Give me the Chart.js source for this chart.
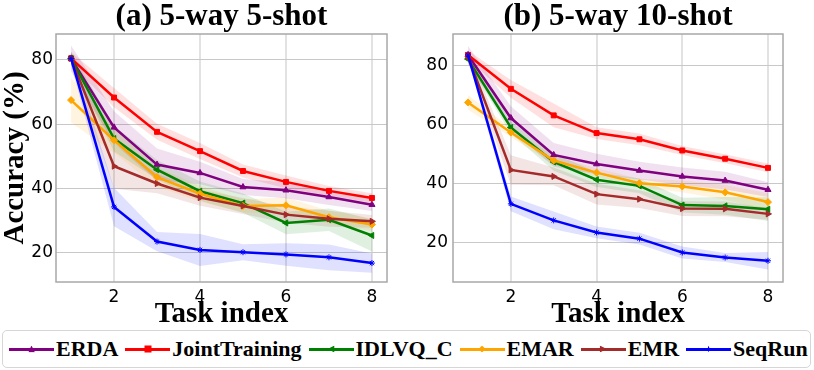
<!DOCTYPE html>
<html><head><meta charset="utf-8">
<script src="https://cdn.jsdelivr.net/npm/chart.js@4.4.0/dist/chart.umd.min.js"></script>
<style>
body{margin:0;background:#fff;width:814px;height:370px;overflow:hidden;position:relative;}
#c1{position:absolute;left:0;top:0;}
#c2{position:absolute;left:405px;top:0;}
#legend{position:absolute;left:2px;top:330px;width:809px;height:38px;border:1px solid #d6d6d6;border-radius:5px;box-sizing:border-box;display:flex;align-items:center;padding-left:6px;font-family:'Liberation Serif','Times New Roman',serif;font-weight:bold;font-size:22px;color:#000;}
.item{display:flex;align-items:center;margin-right:7px;}
.ln{width:45px;height:3px;position:relative;margin-right:2px;}
.mk{position:absolute;left:50%;top:50%;width:7px;height:7px;transform:translate(-50%,-50%);}
</style>
</head><body>
<canvas id="c1" width="405" height="330"></canvas>
<canvas id="c2" width="409" height="330"></canvas>
<div id="legend"></div>
<script>
// ---------- data ----------
const taskIdx = [1, 2, 3, 4, 5, 6, 7, 8];
const xTicks = [2, 4, 6, 8];
const yTicks = [20, 40, 60, 80];
const seriesNames = ['ERDA', 'JointTraining', 'IDLVQ_C', 'EMAR', 'EMR', 'SeqRun'];
const seriesColors = ['#800080', '#ff0000', '#008000', '#ffa500', '#a52a2a', '#0000ff'];
const panelTitles = ['(a) 5-way 5-shot', '(b) 5-way 10-shot'];

// (a) 5-way 5-shot : mean accuracy
const erda5 = [80.5, 59.0, 47.4, 44.8, 40.4, 39.4, 37.3, 34.9];
const joint5 = [80.5, 68.3, 57.6, 51.6, 45.4, 42.0, 39.2, 37.0];
const idlvq5 = [80.5, 55.5, 45.8, 39.1, 35.4, 29.2, 30.2, 25.3];
const emar5 = [67.5, 55.0, 43.5, 38.3, 34.5, 34.7, 31.0, 28.7];
const emr5 = [80.5, 46.9, 41.5, 37.1, 34.5, 31.8, 30.5, 29.7];
const seq5 = [80.5, 34.2, 23.4, 20.8, 20.1, 19.4, 18.5, 16.7];
// (a) std (shaded band)
const erda5Std = [4, 5, 5, 3.5, 2.5, 2.5, 2.5, 2];
const joint5Std = [2, 3, 2.5, 2.5, 2, 2, 1.5, 1.5];
const idlvq5Std = [2, 4, 3, 3, 3, 3.5, 3.5, 5];
const emar5Std = [7, 4, 3, 2.5, 2, 2.5, 2, 2];
const emr5Std = [2, 7, 3, 2.5, 2.5, 2.5, 2.5, 2];
const seq5Std = [2, 6, 3, 5, 2.5, 3.5, 4, 3];

// (b) 5-way 10-shot : mean accuracy
const erda10 = [83.6, 62.2, 49.7, 46.6, 44.4, 42.4, 41.0, 37.9];
const joint10 = [83.6, 72.1, 63.1, 57.1, 55.0, 51.2, 48.4, 45.3];
const idlvq10 = [82.2, 59.0, 47.3, 41.3, 39.2, 32.7, 32.4, 31.3];
const emar10 = [67.5, 57.3, 47.8, 43.7, 40.1, 39.0, 37.0, 33.7];
const emr10 = [83.0, 44.6, 42.4, 36.4, 34.7, 31.5, 31.4, 29.7];
const seq10 = [83.6, 33.1, 27.5, 23.4, 21.3, 16.6, 14.9, 13.8];
// (b) std
const erda10Std = [3, 4, 4, 3.5, 3, 3, 3, 2.5];
const joint10Std = [1.5, 3, 4, 2, 2, 1.5, 1.5, 1.5];
const idlvq10Std = [1.5, 2, 3, 2.5, 2.5, 2.5, 3, 4];
const emar10Std = [2.5, 1.5, 1.5, 1.5, 1.5, 2, 2.5, 3];
const emr10Std = [2, 5, 3, 3.5, 3, 2.5, 2.5, 2];
const seq10Std = [1.5, 2.5, 3, 2, 2, 2, 1.5, 3];

// ---------- styling ----------
const pointStyles = ['triangle', 'rect', 'triangle', 'rectRot', 'triangle', 'star'];
const pointRot = [0, 0, -90, 0, 90, 0];
const pointRad = [3.5, 3.5, 3.5, 3.5, 3.5, 3];
function rgba(hex, a) {
  const n = parseInt(hex.slice(1), 16);
  return `rgba(${(n >> 16) & 255},${(n >> 8) & 255},${n & 255},${a})`;
}

function buildDatasets(means, stds) {
  const ds = [];
  seriesNames.forEach((name, i) => {
    ds.push({
      label: name + ' lo', data: taskIdx.map((x, j) => ({x, y: means[i][j] - stds[i][j]})),
      borderWidth: 0, pointRadius: 0, fill: false, order: 20, borderColor: 'rgba(0,0,0,0)'
    });
    ds.push({
      label: name + ' hi', data: taskIdx.map((x, j) => ({x, y: means[i][j] + stds[i][j]})),
      borderWidth: 0, pointRadius: 0, fill: '-1', order: 20, borderColor: 'rgba(0,0,0,0)',
      backgroundColor: rgba(seriesColors[i], 0.12)
    });
  });
  seriesNames.forEach((name, i) => {
    ds.push({
      label: name, data: taskIdx.map((x, j) => ({x, y: means[i][j]})),
      borderColor: seriesColors[i], backgroundColor: seriesColors[i],
      borderWidth: 2.5, pointStyle: pointStyles[i], pointRotation: pointRot[i],
      pointRadius: pointRad[i], pointBorderWidth: 1, fill: false, tension: 0,
      order: 10 - i
    });
  });
  return ds;
}

const framePlugin = {
  id: 'frame',
  afterDatasetsDraw(chart) {
    const a = chart.chartArea, c = chart.ctx;
    c.save();
    c.strokeStyle = '#a8a8a8';
    c.lineWidth = 1.5;
    c.strokeRect(a.left, a.top, a.right - a.left, a.bottom - a.top);
    c.restore();
  }
};

const serif = "'Liberation Serif','Times New Roman',serif";
const sans = "'DejaVu Sans',sans-serif";

function makeChart(id, title, means, stds, yMin, yMax, yWidth, yPad, rightPad, showYTitle) {
  return new Chart(document.getElementById(id), {
    type: 'line',
    data: {datasets: buildDatasets(means, stds)},
    plugins: [framePlugin],
    options: {
      responsive: false, animation: false,
      layout: {padding: {left: 0, right: rightPad, top: 0, bottom: 0}},
      plugins: {
        legend: {display: false}, tooltip: {enabled: false},
        filler: {propagate: false, drawTime: 'beforeDatasetsDraw'},
        title: {
          display: true, text: title, fullSize: false, color: '#000',
          font: {family: serif, size: 31, weight: 'bold', lineHeight: 1.0},
          padding: {top: 1, bottom: 2}
        }
      },
      scales: {
        x: {
          type: 'linear', min: 0.65, max: 8.35,
          afterBuildTicks: s => { s.ticks = xTicks.map(v => ({value: v})); },
          afterFit: s => { s.height = 48; },
          grid: {color: '#e2e2e2', lineWidth: 2, drawTicks: false},
          border: {display: false},
          ticks: {color: '#000', font: {family: sans, size: 17}, padding: 5, maxRotation: 0},
          title: {display: true, text: 'Task index', color: '#000',
                  font: {family: serif, size: 29, weight: 'bold', lineHeight: 1.1}, padding: {top: 0, bottom: 0}}
        },
        y: {
          type: 'linear', min: yMin, max: yMax,
          afterBuildTicks: s => { s.ticks = yTicks.map(v => ({value: v})); },
          afterFit: s => { s.width = yWidth; },
          grid: {color: '#c8c8c8', lineWidth: 1, drawTicks: false},
          border: {display: false},
          ticks: {color: '#000', font: {family: sans, size: 17}, padding: yPad},
          title: {display: showYTitle, text: 'Accuracy (%)', color: '#000',
                  font: {family: serif, size: 29, weight: 'bold', lineHeight: 1.1}, padding: {top: 0, bottom: 0}}
        }
      }
    }
  });
}

makeChart('c1', panelTitles[0],
  [erda5, joint5, idlvq5, emar5, emr5, seq5],
  [erda5Std, joint5Std, idlvq5Std, emar5Std, emr5Std, seq5Std],
  10.8, 88.1, 56, 3, 18, true);
makeChart('c2', panelTitles[1],
  [erda10, joint10, idlvq10, emar10, emr10, seq10],
  [erda10Std, joint10Std, idlvq10Std, emar10Std, emr10Std, seq10Std],
  6.6, 90.7, 48, 5, 31, false);

// ---------- legend ----------
const legendShapes = {
  triangle0: 'polygon(50% 0,100% 100%,0 100%)',
  triangle90: 'polygon(0 0,100% 50%,0 100%)',
  triangleM90: 'polygon(100% 0,0 50%,100% 100%)',
  rect: 'none',
  rectRot: 'polygon(50% 0,100% 50%,50% 100%,0 50%)',
  star: 'polygon(50% 0,62% 38%,100% 50%,62% 62%,50% 100%,38% 62%,0 50%,38% 38%)'
};
const legendKeys = ['triangle0', 'rect', 'triangleM90', 'rectRot', 'triangle90', 'star'];
const leg = document.getElementById('legend');
seriesNames.forEach((name, i) => {
  const it = document.createElement('div'); it.className = 'item';
  const ln = document.createElement('div'); ln.className = 'ln'; ln.style.background = seriesColors[i];
  const mk = document.createElement('div'); mk.className = 'mk'; mk.style.background = seriesColors[i];
  const shp = legendShapes[legendKeys[i]];
  if (shp !== 'none') mk.style.clipPath = shp;
  ln.appendChild(mk);
  const tx = document.createElement('span'); tx.textContent = name;
  it.appendChild(ln); it.appendChild(tx);
  leg.appendChild(it);
});
</script>
</body></html>
